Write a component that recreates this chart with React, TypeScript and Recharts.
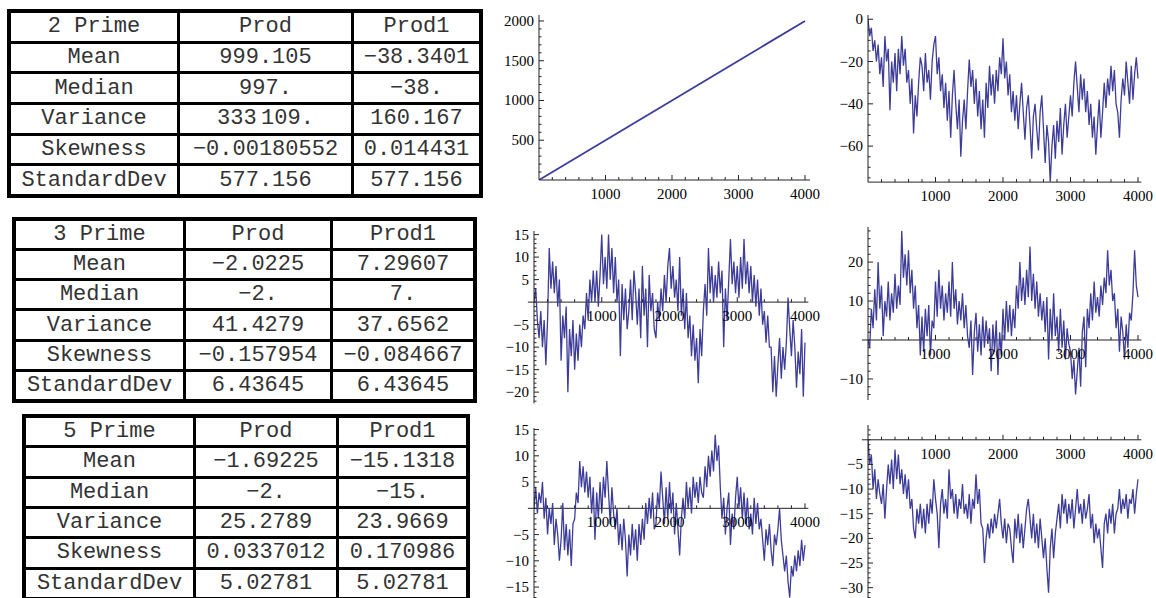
import { LineChart, Line, XAxis, YAxis, ReferenceLine } from 'recharts'

const STEP = 25
const LINE_COLOR = '#3d3d99'
const AXIS_COLOR = '#222'
const MINUS = '\u2212'

// stats tables
const statNames = ['Mean', 'Median', 'Variance', 'Skewness', 'StandardDev']
const prime2Prod = ['999.105', '997.', '333\u2009109.', MINUS + '0.00180552', '577.156']
const prime2Prod1 = [MINUS + '38.3401', MINUS + '38.', '160.167', '0.014431', '577.156']
const prime3Prod = [MINUS + '2.0225', MINUS + '2.', '41.4279', MINUS + '0.157954', '6.43645']
const prime3Prod1 = ['7.29607', '7.', '37.6562', MINUS + '0.084667', '6.43645']
const prime5Prod = [MINUS + '1.69225', MINUS + '2.', '25.2789', '0.0337012', '5.02781']
const prime5Prod1 = [MINUS + '15.1318', MINUS + '15.', '23.9669', '0.170986', '5.02781']

// series (x = index * STEP unless given)
const walk2ProdX = [0, 1000, 2000, 3000, 4000]
const walk2ProdY = [0, 500, 1000, 1500, 2000]

const walk2Prod1 = [
  0, -8, -4, -15, -10, -20, -12, -26, -18, -32, -8, -20, -14, -43, -20, -30,
  -16, -34, -14, -26, -8, -22, -14, -30, -24, -40, -28, -54, -36, -46, -30, -18,
  -22, -34, -16, -30, -24, -38, -20, -12, -8, -26, -18, -34, -26, -42, -30, -48,
  -34, -56, -36, -24, -40, -52, -38, -65, -48, -38, -52, -34, -19, -32, -24, -40,
  -28, -46, -34, -52, -38, -56, -30, -42, -22, -36, -26, -40, -24, -34, -18, -26,
  -9, -28, -20, -36, -26, -44, -34, -48, -36, -52, -40, -30, -44, -57, -42, -36,
  -50, -66, -46, -40, -52, -62, -44, -36, -52, -68, -50, -58, -77, -60, -50, -66,
  -48, -58, -42, -64, -50, -40, -56, -46, -36, -46, -30, -20, -32, -44, -26, -38,
  -28, -44, -34, -50, -40, -56, -46, -64, -50, -38, -56, -44, -30, -42, -28, -36,
  -22, -34, -24, -40, -44, -56, -38, -28, -36, -20, -30, -40, -22, -38, -26, -18,
  -28,
]

const walk3Prod = [
  0, 3, -4, -8, -2, -10, -4, -14, -4, 12, 3, 9, 2, 8, -1, 5,
  -13, -3, -8, -1, -20, -6, -12, -4, -15, -7, -13, -5, -10, -3, -6, 2,
  -4, 5, 0, 7, 0, 7, -1, 6, 15, 4, 10, 3, 15, 5, 12, 2,
  10, 0, 5, -12, 4, -4, 3, -6, -2, 5, -4, 7, 2, -5, 3, -8,
  8, -3, 3, -10, 6, -2, 2, -6, -8, 0, -4, 3, -2, 6, 0, 8,
  12, 3, 8, 1, 5, -2, 10, -3, 3, -6, 2, -8, -3, -12, -5, -13,
  -8, -18, -6, -12, -2, 4, -3, 12, 2, 8, 0, 6, 1, 9, 2, 7,
  -10, 3, -4, 5, 14, 4, 9, 2, 8, 1, 10, 3, 14, 4, 9, 2,
  8, 0, 6, -1, 5, -3, 3, -5, -2, -9, -3, -10, -10, -20, -12, -21,
  -14, -8, -17, -10, -15, -9, 1, -6, -12, -4, -10, -19, -11, -16, -6, -21,
  -9,
]

const walk3Prod1 = [
  0, -2, 8, 3, 13, 5, 20, 8, 14, 1, 10, 6, 15, 5, 12, 7,
  17, 8, 14, 9, 28, 16, 22, 14, 23, 12, 18, 8, 14, 3, 9, -4,
  6, -3, 8, 1, 9, -4, 5, 3, 15, 6, 18, 8, 14, 5, 12, 7,
  15, 6, 20, 8, 13, 4, 10, 5, 12, 3, 9, 1, -2, 5, -9, 2,
  7, -3, 4, -4, 6, -2, 5, -1, 3, -8, 4, -3, 5, -9, 2, -4,
  8, 0, 10, 2, 9, 1, 8, 3, 14, 8, 20, 10, 16, 9, 18, 11,
  24, 10, 17, 8, 15, 6, 12, 5, 10, 2, 11, -5, 8, 0, 12, 1,
  6, -3, 8, -2, 5, -5, 3, -1, -3, -10, -5, -14, -8, -2, -12, 2,
  6, -7, 8, 3, 12, 5, 15, 7, 11, 6, 14, 9, 16, 12, 23, 14,
  18, 10, 12, 3, 8, -3, 6, 2, -5, 4, -2, 7, 5, 12, 23, 14,
  11,
]

const walk5Prod = [
  0, 4, -1, 3, 1, 5, -2, 2, -5, 0, -3, 1, -7, -2, -5, -10,
  -6, 1, -8, -3, -9, -4, -11, -3, -2, 3, 1, 9, 4, 8, 3, 7,
  2, 6, -1, 4, -6, 3, -2, 5, -1, 6, 2, 9, 3, -3, 4, -1,
  -4, 0, -7, -3, -8, -2, -6, -13, -5, -9, -3, -8, -4, -10, -3, -7,
  -2, -6, 1, -3, 2, -2, 3, -4, -3, 3, 0, 7, 2, -3, 4, -2,
  5, -1, 3, -5, 1, -4, -9, -2, 2, -2, 5, 0, 4, -1, 6, 2,
  5, 1, 6, 3, 2, 8, 4, 10, 6, 11, 7, 14, 9, 12, 4, -2,
  2, -5, 0, 3, -7, -1, -4, 2, 6, 0, 4, -2, 3, -3, 2, -4,
  -1, -5, 2, -3, 1, -4, -2, -6, -10, -4, -7, -3, -8, -11, -5, -7,
  -4, 0, -6, -9, -12, -9, -14, -17, -11, -13, -9, -12, -8, -11, -6, -10,
  -7,
]

const walk5Prod1 = [
  0, -5, -3, -10, -6, -12, -8, -11, -13, -9, -16, -10, -5, -9, -4, -10,
  -2, -8, -3, -9, -6, -11, -7, -12, -8, -14, -12, -18, -20, -14, -17, -13,
  -18, -14, -19, -13, -17, -12, -15, -8, -12, -15, -22, -13, -10, -15, -12, -16,
  -6, -12, -10, -15, -11, -16, -12, -14, -9, -15, -13, -16, -11, -17, -12, -14,
  -7, -13, -10, -17, -18, -25, -20, -17, -20, -16, -19, -15, -18, -15, -12, -17,
  -20, -16, -21, -17, -18, -22, -25, -16, -20, -15, -21, -17, -22, -18, -14, -12,
  -16, -20, -15, -21, -17, -22, -16, -20, -24, -20, -26, -31, -22, -18, -24, -19,
  -16, -13, -18, -11, -15, -12, -17, -13, -16, -12, -18, -14, -10, -15, -13, -17,
  -12, -16, -14, -11, -18, -15, -21, -17, -20, -18, -22, -26, -17, -15, -19, -14,
  -17, -13, -19, -15, -14, -10, -15, -12, -14, -11, -16, -12, -13, -10, -15, -11,
  -8,
]

// ticks
const xMajor = [1000, 2000, 3000, 4000]
const range = (from: number, to: number, step: number) => {
  const out: number[] = []
  for (let v = from; v <= to; v += step) out.push(v)
  return out
}
const xMinor = range(200, 4000, 200)

const fmt = (v: number) => (v < 0 ? MINUS + Math.abs(v) : String(v))
const toRows = (ys: number[], xs?: number[]) => ys.map((y, i) => ({ x: xs ? xs[i] : i * STEP, y }))

const TICK_FONT = '"Liberation Serif", "Times New Roman", serif'

interface WalkProps {
  data: { x: number; y: number }[]
  x0: number
  x4000: number
  xMax: number
  top: number
  bottom: number
  yDomain: [number, number]
  axisAt: number
  yMajor: number[]
  yMinor: number[]
  xLeft?: number
  strokeWidth?: number
}

function WalkChart(props: WalkProps) {
  const { data, x0, x4000, xMax, top, bottom, yDomain, axisAt, yMajor, yMinor } = props
  const yw = 50, mt = 6, mr = 14, xh = 26
  const plotW = ((x4000 - x0) * xMax) / 4000
  const plotH = bottom - top
  const lift = (plotH * (axisAt - yDomain[0])) / (yDomain[1] - yDomain[0])
  const xLeft = props.xLeft ?? 0

  const xTick = (p: any) => {
    const v = p.payload.value
    const ay = p.y - lift
    const major = xMajor.includes(v)
    return (
      <g>
        <line x1={p.x} x2={p.x} y1={ay} y2={ay - (major ? 5 : 3)} stroke={AXIS_COLOR} />
        {major && (
          <text x={p.x} y={ay + 19} textAnchor="middle" fontSize={15} fontFamily={TICK_FONT} fill="#000">
            {fmt(v)}
          </text>
        )}
      </g>
    )
  }

  const yTick = (p: any) => {
    const v = p.payload.value
    const major = yMajor.includes(v)
    return (
      <g>
        <line x1={p.x} x2={p.x + (major ? 5 : 2.5)} y1={p.y} y2={p.y} stroke={AXIS_COLOR} />
        {major && (
          <text x={p.x - 5} y={p.y} dy={5} textAnchor="end" fontSize={15} fontFamily={TICK_FONT} fill="#000">
            {fmt(v)}
          </text>
        )}
      </g>
    )
  }

  return (
    <div style={{ position: 'absolute', left: x0 - yw, top: top - mt }}>
      <LineChart
        width={yw + plotW + mr}
        height={mt + plotH + xh}
        data={data}
        margin={{ top: mt, right: mr, bottom: 0, left: 0 }}
      >
        <ReferenceLine
          segment={[{ x: -xLeft, y: axisAt }, { x: xMax, y: axisAt }]}
          stroke={AXIS_COLOR}
          ifOverflow="visible"
        />
        <Line
          type="linear"
          dataKey="y"
          stroke={LINE_COLOR}
          strokeWidth={props.strokeWidth ?? 1.3}
          dot={false}
          isAnimationActive={false}
        />
        <XAxis
          type="number"
          dataKey="x"
          domain={[0, xMax]}
          allowDataOverflow
          ticks={xMinor}
          interval={0}
          tickSize={0}
          tickMargin={0}
          tickLine={false}
          axisLine={false}
          height={xh}
          tick={xTick}
        />
        <YAxis
          type="number"
          domain={yDomain}
          allowDataOverflow
          ticks={yMinor}
          interval={0}
          tickSize={0}
          tickMargin={0}
          tickLine={false}
          axisLine={{ stroke: AXIS_COLOR }}
          width={yw}
          tick={yTick}
        />
      </LineChart>
    </div>
  )
}

interface TableProps {
  left: number
  top: number
  width: number
  height: number
  cols: number[]
  title: string
  prod: string[]
  prod1: string[]
}

function StatTable({ left, top, width, height, cols, title, prod, prod1 }: TableProps) {
  const rows = [[title, 'Prod', 'Prod1'], ...statNames.map((n, i) => [n, prod[i], prod1[i]])]
  return (
    <div
      style={{
        position: 'absolute',
        left,
        top,
        width,
        height,
        boxSizing: 'border-box',
        border: '4px solid #000',
        background: '#000',
        display: 'grid',
        gridTemplateColumns: cols.map((c) => c + 'px').join(' '),
        gridTemplateRows: 'repeat(6, 1fr)',
        gap: 3,
      }}
    >
      {rows.flat().map((t, i) => (
        <div
          key={i}
          style={{
            background: '#fff',
            display: 'flex',
            alignItems: 'center',
            justifyContent: 'center',
            fontFamily: '"Liberation Mono", "Courier New", monospace',
            fontSize: 22,
            color: '#333',
            whiteSpace: 'pre',
          }}
        >
          {t}
        </div>
      ))}
    </div>
  )
}

export default function App() {
  return (
    <div
      style={{
        position: 'absolute',
        left: 0,
        top: 0,
        width: 1156,
        height: 598,
        overflow: 'hidden',
        background: '#fff',
      }}
    >
      <StatTable left={7} top={9} width={476} height={189} cols={[166, 171, 125]} title="2 Prime" prod={prime2Prod} prod1={prime2Prod1} />
      <StatTable left={12} top={217} width={465} height={186} cols={[167, 144, 140]} title="3 Prime" prod={prime3Prod} prod1={prime3Prod1} />
      <StatTable left={22} top={414} width={448} height={187} cols={[167, 140, 127]} title="5 Prime" prod={prime5Prod} prod1={prime5Prod1} />

      <WalkChart
        data={toRows(walk2ProdY, walk2ProdX)}
        x0={539} x4000={805} xMax={4075} top={15} bottom={180}
        yDomain={[0, 2075]} axisAt={0}
        yMajor={[500, 1000, 1500, 2000]} yMinor={range(100, 2000, 100)}
        strokeWidth={1.8}
      />
      <WalkChart
        data={toRows(walk2Prod1)}
        x0={868} x4000={1138} xMax={4050} top={14.8} bottom={181.9}
        yDomain={[-77, 2]} axisAt={-77}
        yMajor={[-60, -40, -20, 0]} yMinor={range(-75, 0, 5)}
      />
      <WalkChart
        data={toRows(walk3Prod)}
        x0={534} x4000={805} xMax={4050} top={230.6} bottom={403}
        yDomain={[-22.5, 15.8]} axisAt={0} xLeft={90}
        yMajor={[-20, -15, -10, -5, 5, 10, 15]} yMinor={range(-22, 15, 1)}
      />
      <WalkChart
        data={toRows(walk3Prod1)}
        x0={868} x4000={1138} xMax={4050} top={227} bottom={400}
        yDomain={[-15.4, 29]} axisAt={0} xLeft={90}
        yMajor={[-10, 10, 20]} yMinor={range(-14, 28, 2)}
      />
      <WalkChart
        data={toRows(walk5Prod)}
        x0={534} x4000={805} xMax={4050} top={428} bottom={600.2}
        yDomain={[-17.5, 15.3]} axisAt={0} xLeft={90}
        yMajor={[-15, -10, -5, 5, 10, 15]} yMinor={range(-17, 15, 1)}
      />
      <WalkChart
        data={toRows(walk5Prod1)}
        x0={868} x4000={1138} xMax={4050} top={425} bottom={600}
        yDomain={[-32.5, 3]} axisAt={0} xLeft={90}
        yMajor={[-30, -25, -20, -15, -10, -5]} yMinor={range(-32, 2, 1)}
      />
    </div>
  )
}
